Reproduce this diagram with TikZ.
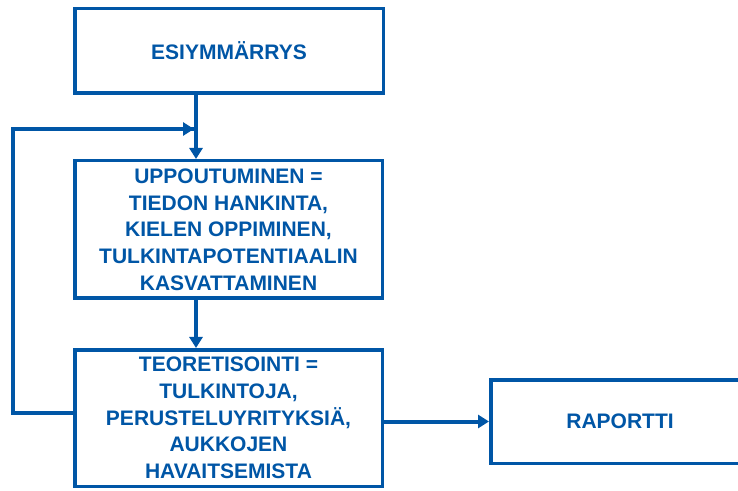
\documentclass[tikz,border=0pt]{standalone}
\usepackage{fontspec}
\setmainfont{Liberation Sans}
\usetikzlibrary{arrows.meta}
\definecolor{flowblue}{RGB}{0,86,166}
\tikzset{
  x=1pt, y=1pt,
  stagebox/.style={draw=flowblue, line width=3.5pt, fill=white, inner sep=0pt,
    text=flowblue, align=center,
    font=\fontsize{21}{26.7}\selectfont\bfseries},
  flow/.style={draw=flowblue, line width=4pt,
    -{Triangle[length=11pt,width=13pt]}},
  loopline/.style={draw=flowblue, line width=4pt, line join=miter}
}
\begin{document}
\begin{tikzpicture}
\clip (0,0) rectangle (738,490);
\fill[white] (0,0) rectangle (738,490);

% stages of the process
\node[stagebox, minimum width=308.5pt, minimum height=84.5pt] (pre) at (229,439)
  {ESIYMMÄRRYS};
\node[stagebox, minimum width=307.5pt, minimum height=137.5pt] (imm) at (228.5,260.5)
  {UPPOUTUMINEN =\\TIEDON HANKINTA,\\KIELEN OPPIMINEN,\\TULKINTAPOTENTIAALIN\\KASVATTAMINEN};
\node[stagebox, minimum width=307.5pt, minimum height=136.5pt] (theo) at (228.5,72)
  {TEORETISOINTI =\\TULKINTOJA,\\PERUSTELUYRITYKSIÄ,\\AUKKOJEN\\HAVAITSEMISTA};
\node[stagebox, minimum width=258.5pt, minimum height=83.5pt] (rep) at (620,68.5)
  {RAPORTTI};

% main vertical flow line and the point where the loop rejoins it
\coordinate (axis) at (196,0);
\coordinate (join) at (196,361);
\coordinate (loopcorner) at (13,0);

\draw[flow] (pre.south -| axis) -- (imm.north -| axis);
\draw[flow] (imm.south -| axis) -- (theo.north -| axis);
\draw[flow] (theo.east |- rep.west) -- (rep.west);

% feedback loop from theorising back to immersion
\draw[loopline] ([yshift=5pt]theo.west) -- ([yshift=5pt]theo.west -| loopcorner)
  -- (loopcorner |- join) -- ([xshift=-2pt]join);
\draw[flow] ([xshift=-20pt]join) -- ([xshift=-2pt]join);
\end{tikzpicture}
\end{document}
